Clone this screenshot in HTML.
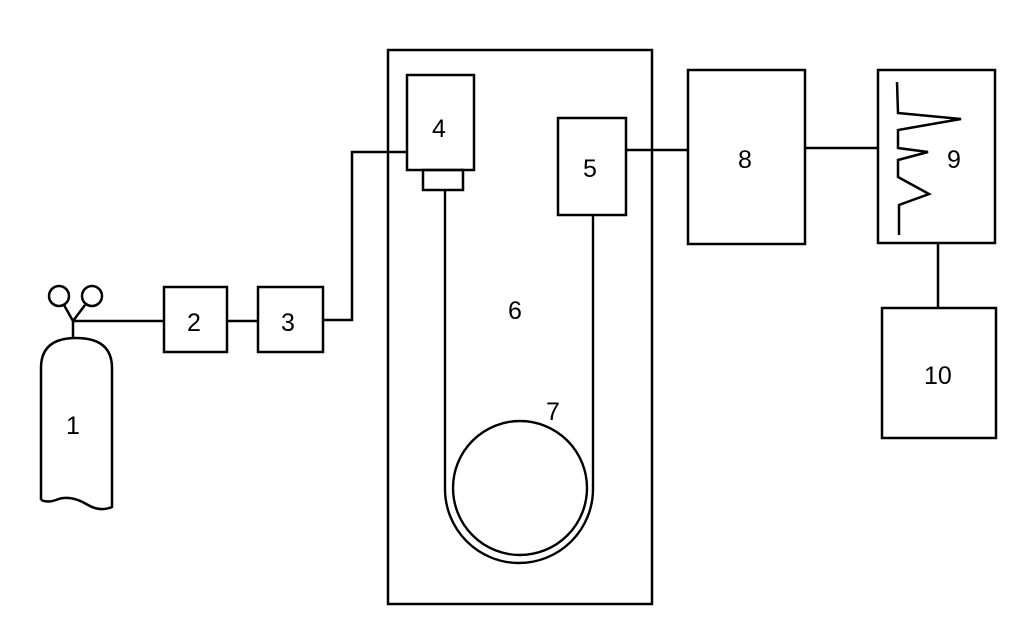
<!DOCTYPE html>
<html><head><style>
html,body{margin:0;padding:0;background:#fff;}
svg text{font-family:"Liberation Sans",sans-serif;font-size:25px;fill:#000;}
</style></head><body>
<svg width="1024" height="632" viewBox="0 0 1024 632" xmlns="http://www.w3.org/2000/svg">
<g fill="none" stroke="#000" stroke-width="2.5">
<path d="M41,500 L41,368 Q41,338 76,338 Q112,338 112,368 L112,507 Q100,512 88,505 Q70,494 56,500 Q48,503 41,500"/>
<line x1="73" y1="338" x2="73" y2="321"/>
<line x1="73" y1="321" x2="64" y2="305"/>
<line x1="73" y1="321" x2="85" y2="305"/>
<circle cx="59" cy="296" r="10"/>
<circle cx="92" cy="296" r="10"/>
<line x1="73" y1="321" x2="164" y2="321"/>
<rect x="164" y="287" width="63" height="65"/>
<line x1="227" y1="321" x2="258" y2="321"/>
<rect x="258" y="287" width="65" height="65"/>
<polyline points="323,320 352,320 352,152 408,152"/>
<rect x="388" y="50" width="264" height="554"/>
<rect x="407" y="75" width="67" height="95"/>
<rect x="423" y="170" width="40" height="20"/>
<rect x="558" y="118" width="68" height="97"/>
<path d="M445,190 L445,489 A74,74 0 0 0 593,489 L593,215" stroke-width="2.4"/>
<circle cx="520" cy="488" r="67" stroke-width="2.4"/>
<line x1="626" y1="150" x2="688" y2="150"/>
<rect x="688" y="70" width="117" height="174"/>
<line x1="805" y1="148" x2="878" y2="148"/>
<rect x="878" y="70" width="117" height="173"/>
<polyline points="897,82 898,113 961,119 898,130 898,148 928,152 898,160 898,177 929,194 899,205 899,235"/>
<line x1="938" y1="243" x2="938" y2="308"/>
<rect x="882" y="308" width="114" height="130"/>
</g>
<text x="66" y="434">1</text>
<text x="187" y="331">2</text>
<text x="281" y="331">3</text>
<text x="432" y="137">4</text>
<text x="583" y="177">5</text>
<text x="508" y="319">6</text>
<text x="546" y="420">7</text>
<text x="738" y="168">8</text>
<text x="947" y="168">9</text>
<text x="924" y="384">10</text>
</svg>
</body></html>
